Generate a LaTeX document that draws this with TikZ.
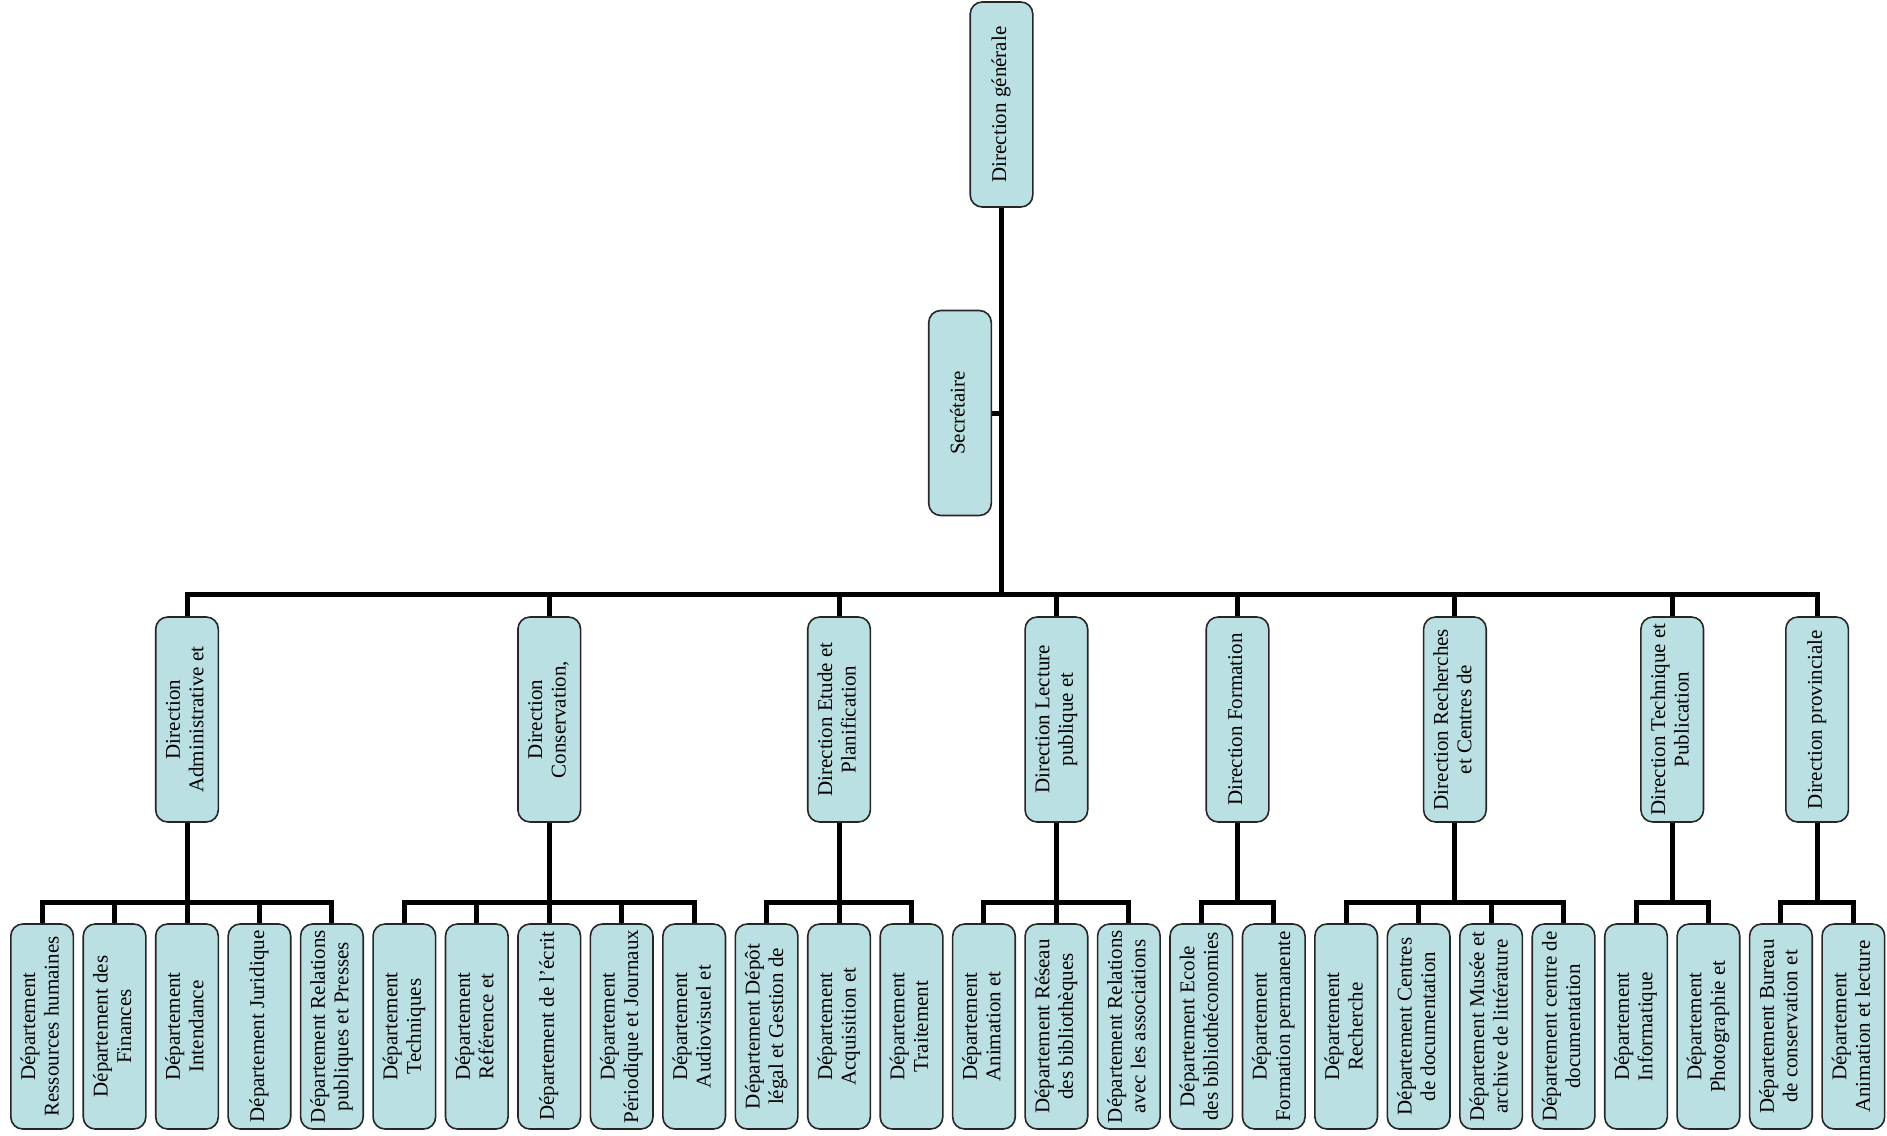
\documentclass[tikz,border=0pt]{standalone}
\usepackage{fontspec}
\setmainfont{Liberation Serif}
\usepackage{graphicx}

\definecolor{orgfill}{RGB}{187,224,227}
\newcommand{\vlabel}[1]{\rotatebox{90}{\begin{tabular}{@{}c@{}}#1\end{tabular}}}

\begin{document}
\begin{tikzpicture}[x=1pt,y=-1pt,
  orgbox/.style={draw=black!85,line width=1.6pt,fill=orgfill,rounded corners=12pt,
    minimum width=62.6pt,minimum height=205pt,inner sep=0pt,
    font=\fontsize{21}{23.5}\selectfont},
  branch/.style={line width=5pt}]

\useasboundingbox (0,0) rectangle (1887,1135);

\node[orgbox] (dg) at (1001.5,104.5) {\vlabel{Direction générale}};
\node[orgbox] (sec) at (960,413) {\vlabel{Secrétaire}};

%\node at (0,0) {directions};
\node[orgbox] (da) at (187,719.5) {\vlabel{Direction\\Administrative et}};
\node[orgbox] (dc) at (549.25,719.5) {\vlabel{Direction\\Conservation,}};
\node[orgbox] (de) at (839.05,719.5) {\vlabel{Direction Etude et\\Planification}};
\node[orgbox] (dl) at (1056.4,719.5) {\vlabel{Direction Lecture\\publique et}};
\node[orgbox] (df) at (1237.5,719.5) {\vlabel{Direction Formation}};
\node[orgbox] (dr) at (1454.9,719.5) {\vlabel{Direction Recherches\\et Centres de}};
\node[orgbox] (dt) at (1672.2,719.5) {\vlabel{Direction Technique et\\Publication}};
\node[orgbox] (dp) at (1817.1,719.5) {\vlabel{Direction provinciale}};

\node[orgbox] (a1) at (42.1,1026.5) {\vlabel{Département\\Ressources humaines}};
\node[orgbox] (a2) at (114.55,1026.5) {\vlabel{Département des\\Finances}};
\node[orgbox] (a3) at (187,1026.5) {\vlabel{Département\\Intendance}};
\node[orgbox] (a4) at (259.45,1026.5) {\vlabel{Département Juridique}};
\node[orgbox] (a5) at (331.9,1026.5) {\vlabel{Département Relations\\publiques et Presses}};

\node[orgbox] (c1) at (404.35,1026.5) {\vlabel{Département\\Techniques}};
\node[orgbox] (c2) at (476.8,1026.5) {\vlabel{Département\\Référence et}};
\node[orgbox] (c3) at (549.25,1026.5) {\vlabel{Département de l’écrit}};
\node[orgbox] (c4) at (621.7,1026.5) {\vlabel{Département\\Périodique et Journaux}};
\node[orgbox] (c5) at (694.15,1026.5) {\vlabel{Département\\Audiovisuel et}};

\node[orgbox] (e1) at (766.6,1026.5) {\vlabel{Département Dépôt\\légal et Gestion de}};
\node[orgbox] (e2) at (839.05,1026.5) {\vlabel{Département\\Acquisition et}};
\node[orgbox] (e3) at (911.5,1026.5) {\vlabel{Département\\Traitement}};

\node[orgbox] (l1) at (983.95,1026.5) {\vlabel{Département\\Animation et}};
\node[orgbox] (l2) at (1056.4,1026.5) {\vlabel{Département Réseau\\des bibliothèques}};
\node[orgbox] (l3) at (1128.85,1026.5) {\vlabel{Département Relations\\avec les associations}};

\node[orgbox] (f1) at (1201.3,1026.5) {\vlabel{Département Ecole\\des bibliothéconomies}};
\node[orgbox] (f2) at (1273.75,1026.5) {\vlabel{Département\\Formation permanente}};

\node[orgbox] (r1) at (1346.2,1026.5) {\vlabel{Département\\Recherche}};
\node[orgbox] (r2) at (1418.65,1026.5) {\vlabel{Département Centres\\de documentation}};
\node[orgbox] (r3) at (1491.1,1026.5) {\vlabel{Département Musée et\\archive de littérature}};
\node[orgbox] (r4) at (1563.55,1026.5) {\vlabel{Département centre de\\documentation}};

\node[orgbox] (t1) at (1636,1026.5) {\vlabel{Département\\Informatique}};
\node[orgbox] (t2) at (1708.45,1026.5) {\vlabel{Département\\Photographie et}};

\node[orgbox] (p1) at (1780.9,1026.5) {\vlabel{Département Bureau\\de conservation et}};
\node[orgbox] (p2) at (1853.35,1026.5) {\vlabel{Département\\Animation et lecture}};

\coordinate (bus) at (1001.5,594);
\draw[branch] (dg.south) -- (bus);
\draw[branch] (sec.east) -- (sec.east -| bus);
\draw[branch] (da.north) |- (bus) (dc.north) |- (bus) (de.north) |- (bus) (dl.north) |- (bus)
  (df.north) |- (bus) (dr.north) |- (bus) (dt.north) |- (bus) (dp.north) |- (bus);

\coordinate (ja) at (187,902);
\coordinate (jc) at (549.25,902);
\coordinate (je) at (839.05,902);
\coordinate (jl) at (1056.4,902);
\coordinate (jf) at (1237.5,902);
\coordinate (jr) at (1454.9,902);
\coordinate (jt) at (1672.2,902);
\coordinate (jp) at (1817.1,902);

\draw[branch] (da.south) -- (ja) (a1.north) |- (ja) (a2.north) |- (ja) (a3.north) |- (ja) (a4.north) |- (ja) (a5.north) |- (ja);
\draw[branch] (dc.south) -- (jc) (c1.north) |- (jc) (c2.north) |- (jc) (c3.north) |- (jc) (c4.north) |- (jc) (c5.north) |- (jc);
\draw[branch] (de.south) -- (je) (e1.north) |- (je) (e2.north) |- (je) (e3.north) |- (je);
\draw[branch] (dl.south) -- (jl) (l1.north) |- (jl) (l2.north) |- (jl) (l3.north) |- (jl);
\draw[branch] (df.south) -- (jf) (f1.north) |- (jf) (f2.north) |- (jf);
\draw[branch] (dr.south) -- (jr) (r1.north) |- (jr) (r2.north) |- (jr) (r3.north) |- (jr) (r4.north) |- (jr);
\draw[branch] (dt.south) -- (jt) (t1.north) |- (jt) (t2.north) |- (jt);
\draw[branch] (dp.south) -- (jp) (p1.north) |- (jp) (p2.north) |- (jp);

\end{tikzpicture}
\end{document}
